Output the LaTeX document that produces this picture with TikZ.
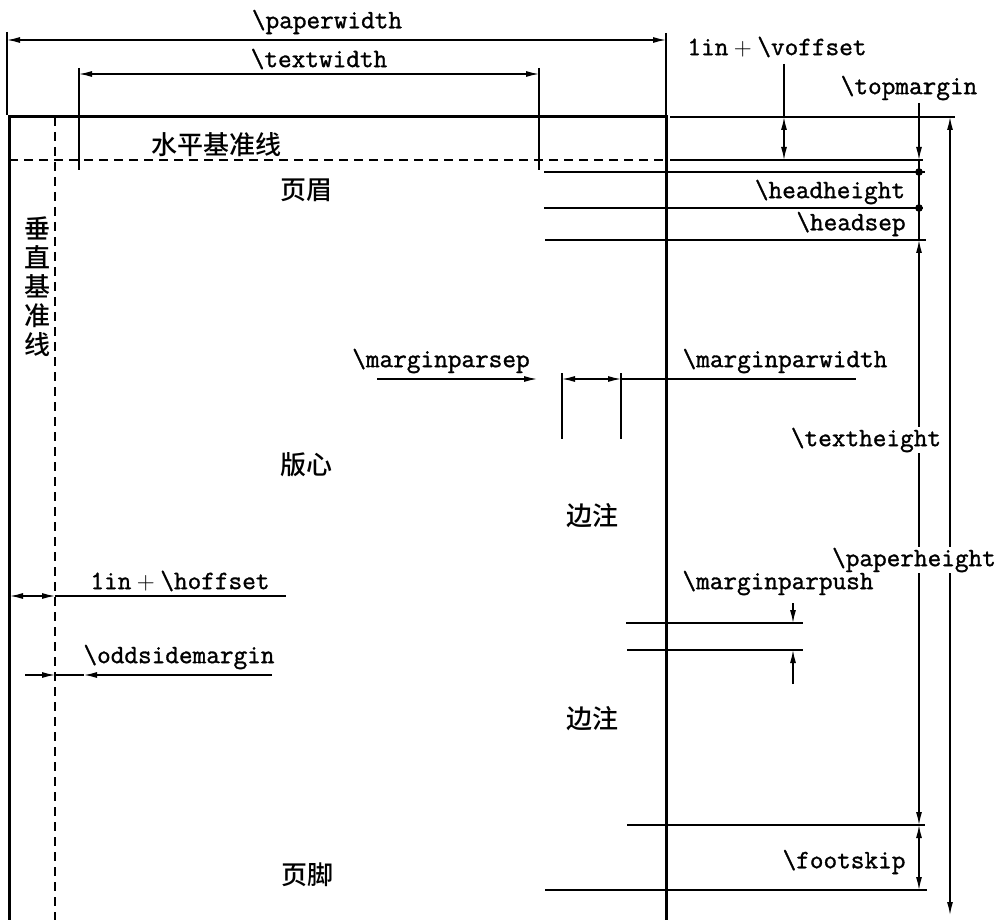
\documentclass[tikz,border=0pt]{standalone}
\usepackage{fontspec}
\setmonofont{Latin Modern Mono}[FakeBold=1.2]
\newfontfamily\cjk{Noto Sans CJK SC Medium}
\usetikzlibrary{arrows.meta}

\tikzset{
  dim/.style={line width=1.3pt},
  frame/.style={line width=3pt},
  cmd/.style={font=\fontsize{26.5}{30}\selectfont\ttfamily, inner sep=1pt},
  zh/.style={font=\fontsize{26}{29}\selectfont\cjk, inner sep=1pt},
}

\begin{document}
\begin{tikzpicture}[x=1pt,y=-1pt,>={Latex[length=13pt,width=6pt]}]

\useasboundingbox (0,0) rectangle (1002,920);

% Papierrand
\draw[frame] (9,920) -- (9,117) -- (666,117) -- (666,920);

% Bezugslinien (gestrichelt)
\draw[dim,dash pattern=on 9pt off 6pt] (55,117) -- (55,920);
\draw[dim,dash pattern=on 9pt off 6pt] (9,160) -- (666,160);

% \paperwidth
\draw[dim] (7,32) -- (7,115);
\draw[dim] (666,33) -- (666,117);
\draw[dim,<->] (7,40) -- (666,40);
\node[cmd] (pw) at (327,22) {\textbackslash paperwidth};

% \textwidth
\draw[dim] (79,68) -- (79,170);
\draw[dim] (539,68) -- (539,170);
\draw[dim,<->] (79,74) -- (539,74);
\node[cmd] (tw) at (319,59) {\textbackslash textwidth};

% Linien rechts
\draw[dim] (670,117) -- (955,117);
\draw[dim] (670,160) -- (923,160);
\draw[dim] (544,172) -- (925,172);
\draw[dim] (544,208) -- (923,208);
\draw[dim] (545,240) -- (926,240);
\fill (919,172) circle (3.8pt);
\fill (919,208) circle (3.8pt);

% \voffset
\draw[dim] (784,64) -- (784,117);
\draw[dim,<->] (784,117) -- (784,160);
\node[cmd] (vo) at (777,47) {1in${}+{}$\textbackslash voffset};

% \topmargin, \headheight, \headsep
\draw[dim,->] (919,103) -- (919,160);
\draw[dim] (919,160) -- (919,240);
\node[cmd] (tm) at (909,88) {\textbackslash topmargin};
\node[cmd] (hh) at (830,192) {\textbackslash headheight};
\node[cmd] (hs) at (851,224) {\textbackslash headsep};

% \textheight
\draw[dim,<->] (919,240) -- (919,825);
\node[cmd,fill=white] (th) at (866,440) {\textbackslash textheight};

% \paperheight
\draw[dim,<->] (950,117) -- (950,915);
\node[cmd,fill=white] (ph) at (914,560) {\textbackslash paperheight};

% \footskip
\draw[dim] (627,825) -- (925,825);
\draw[dim] (545,890) -- (927,890);
\draw[dim,<->] (919,825) -- (919,890);
\node[cmd] (fs) at (844,862) {\textbackslash footskip};

% \marginparsep, \marginparwidth
\draw[dim] (562,373) -- (562,439);
\draw[dim] (621,373) -- (621,439);
\draw[dim,->] (377,379) -- (537,379);
\draw[dim,<->] (562,379) -- (621,379);
\draw[dim] (621,379) -- (856,379);
\node[cmd] (ms) at (441,361) {\textbackslash marginparsep};
\node[cmd] (mw) at (785,361) {\textbackslash marginparwidth};

% \marginparpush
\draw[dim] (626,623) -- (803,623);
\draw[dim] (627,650) -- (803,650);
\draw[dim,->] (793,603) -- (793,623);
\draw[dim,->] (793,684) -- (793,650);
\node[cmd] (mp) at (778,583) {\textbackslash marginparpush};

% \hoffset
\draw[dim,<->] (10,596) -- (55,596);
\draw[dim] (55,596) -- (286,596);
\node[cmd] (ho) at (180,581) {1in${}+{}$\textbackslash hoffset};

% \oddsidemargin
\draw[dim,->] (25,675) -- (55,675);
\draw[dim] (55,675) -- (84,675);
\draw[dim,->] (272,675) -- (84,675);
\node[cmd] (om) at (179,657) {\textbackslash oddsidemargin};

% Beschriftungen (chinesisch)
\node[zh] (hb) at (216,145) {水平基准线};
\node[zh] (ym) at (306,190) {页眉};
\node[zh,align=center] (vb) at (37,287) {垂\\直\\基\\准\\线};
\node[zh] (bx) at (306,465) {版心};
\node[zh] (bz1) at (592,516) {边注};
\node[zh] (bz2) at (592,719) {边注};
\node[zh] (yj) at (307,875) {页脚};

\end{tikzpicture}
\end{document}
